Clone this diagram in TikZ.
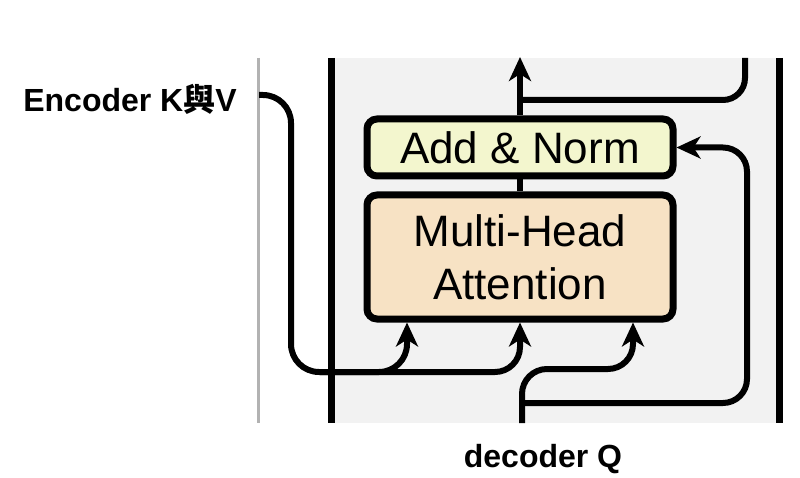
\documentclass[tikz,border=0pt]{standalone}
\usepackage{fontspec}
\setmainfont{Liberation Sans}
\newfontfamily\cjk{Noto Sans CJK TC}
\usetikzlibrary{arrows.meta}
\definecolor{bgg}{RGB}{242,242,242}
\definecolor{normc}{RGB}{243,246,206}
\definecolor{attc}{RGB}{247,226,196}
\begin{document}
\begin{tikzpicture}[x=1pt,y=-1pt,
  conn/.style={line width=6pt, draw=black},
  tipped/.style={-{Stealth[length=24pt,width=22pt,inset=7pt]}},
  blockbox/.style={draw=black, line width=7pt, rounded corners=10pt, minimum width=306pt,
    font=\fontsize{44}{53}\selectfont, align=center, inner sep=0pt},
  lbl/.style={font=\fontsize{32}{38}\selectfont\bfseries, inner sep=0pt}]
\useasboundingbox (0,0) rectangle (800,478);
\fill[white] (0,0) rectangle (800,478);
\fill[bgg] (331,58) rectangle (779,423);
\draw[gray!60, line width=3pt] (258,58) -- (258,423);
\draw[line width=7pt] (331,58) -- (331,423);
\draw[line width=7pt] (779,58) -- (779,423);

\node[blockbox, fill=normc, minimum height=57pt] (norm) at (520,147.5) {Add \& Norm};
\node[blockbox, fill=attc, minimum height=124pt] (mha) at (520,257) {Multi-Head\\Attention};

\node[lbl] (enc) at (130,99) {Encoder K{\cjk\bfseries 與}V};
\node[lbl] (dec) at (543,459) {decoder Q};

% coordinates
\coordinate (top) at (520,57);
\coordinate (resJoin) at (520,100);
\coordinate (resTop) at (745,58);
\coordinate (encStart) at (259,95);
\coordinate (kx) at (407,372);
\coordinate (qx) at (633,369);
\coordinate (qIn) at (522,423);
\coordinate (qSplit) at (522,403);

% main flow
\draw[conn] (mha.north) -- (norm.south);
\draw[conn,tipped] (norm.north) -- (top);
\draw[conn, rounded corners=22pt] (resJoin) -- (745,100) -- (resTop);

% encoder K and V
\draw[conn,tipped, rounded corners=28pt] (encStart) -- (291,95) -- (291,372) -- (kx) -- (kx |- mha.south);
\draw[conn,tipped, rounded corners=25pt] (320,372) -- (520,372) -- (mha.south);

% decoder Q and residual
\draw[conn,tipped, rounded corners=25pt] (qIn) -- (522,369) -- (qx) -- (qx |- mha.south);
\draw[conn,tipped, rounded corners=24pt] (qSplit) -- (747,403) -- (747,147.5) -- (norm.east);
\end{tikzpicture}
\end{document}
